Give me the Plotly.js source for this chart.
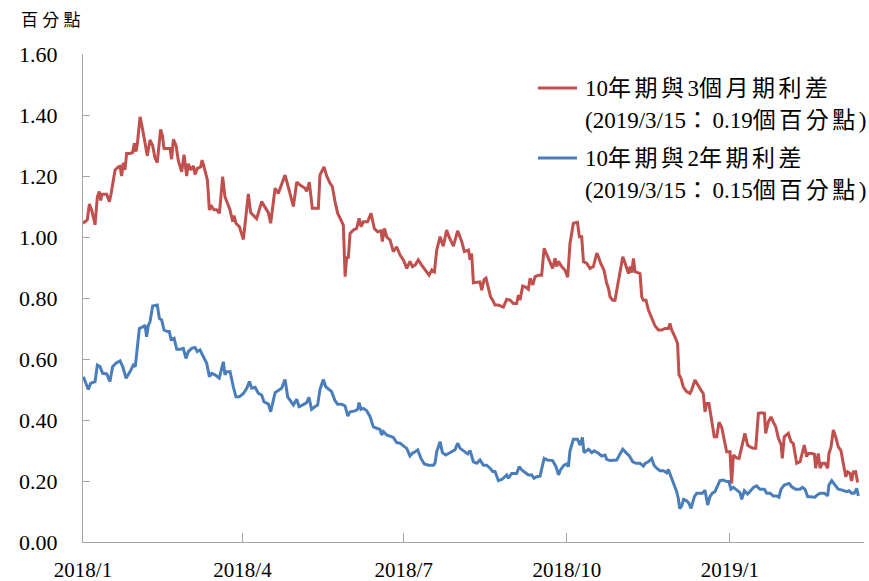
<!DOCTYPE html>
<html>
<head>
<meta charset="utf-8">
<script src="https://cdn.plot.ly/plotly-3.0.1.min.js"></script>
<style>html,body{margin:0;padding:0;background:#fff;}</style>
</head>
<body>
<div id="chart" style="width:869px;height:581px;"></div>
<script>
// ---- data (x = days since 2018-01-01, y = percentage points) ----
const startDate = '2018-01-01';
const endDay = 440.7;

const redName = '10年期與3個月期利差';
const redNote = '(2019/3/15：0.19個百分點)';
const blueName = '10年期與2年期利差';
const blueNote = '(2019/3/15：0.15個百分點)';
const yUnit = '百 分 點';

const tickDates = ['2018-01-01', '2018-04-01', '2018-07-01', '2018-10-01', '2019-01-01'];
const tickLabels = ['2018/1', '2018/4', '2018/7', '2018/10', '2019/1'];

const redDays = [
  0,2.4,3.6,4.9,6.2,6.8,8.1,9.2,10,10.7,
  13.4,14.9,15.8,18.1,20,20.9,21.8,22.8,23.7,24.6,
  26.5,28,29,29.9,30.7,32.2,33.7,35,36.3,37.8,
  39.3,40.6,41.9,43.8,44.9,45.7,47.2,49.1,50,51,
  52.5,53.8,55.7,57,58.5,59.4,60.8,62.3,63.2,64.5,
  66.4,67.2,68.3,70.2,71.3,72.6,73.9,75.4,77,78.8,
  80.1,81.4,82.9,84.5,85.2,86.3,88.2,90.5,92,93.3,
  94.6,96.1,98,100.8,102.7,104.6,105.9,108.4,110.2,114,
  116.8,118.7,120.6,122.5,125.3,126.2,127.7,129.4,132.8,133.7,
  136,137.5,139.4,140.7,142.2,143.7,146.9,147.9,148.8,149.7,
  150.7,152.6,154.4,155.8,156.9,158.2,160.6,162.5,164.4,166.3,
  168.2,168.9,170.1,171.4,173.3,175.1,177,178.9,180.8,182.7,
  184.5,185.9,187.4,189.2,191.1,193.9,195.3,196.8,198.3,199.6,
  201.5,203.3,205.2,206.5,209,211.4,213.7,215.2,217.5,218.4,
  219.3,220.3,224,225,226.3,227.4,228.7,230,231.2,232.5,
  234.4,237.2,239.1,241,242.9,244.7,245.7,246.6,248.1,250,
  251.3,252.3,253.8,255.1,257,258.8,260.2,261.7,263.5,265,
  266.4,267.3,268.3,270.1,272,273.5,274.8,276.7,279,280.1,
  281.4,282.4,284.2,286.1,288,289.9,290.8,292.1,294,295.5,
  296.5,297.4,298.9,300.2,301.2,302.7,304.6,305.9,306.8,307.8,
  308.7,309.6,310.6,311.5,314.3,315.3,316.2,317.7,319,320.9,
  322.8,324.7,326.6,328.4,330.3,331.2,332.2,334,335.5,336.3,
  337.4,338.7,340.6,342.5,343.4,345.3,346.8,348.7,350,351,
  351.9,353.2,354.7,356.2,357.6,358.9,360.4,361.9,363.2,365.1,
  366,367,368.8,370.2,371.7,373.5,375,376.4,378.3,379.6,
  381.1,383,384.5,385.2,386.7,388.2,389.5,390.9,392.4,393.9,
  394.6,395.7,398,399.5,400.8,402.7,404.6,405.9,407,408.3,
  409.3,411.2,412.7,413.4,414.9,415.9,417.2,418.7,420.2,420.9,
  422.1,423.4,424.7,426.2,427.7,429,430.4,431.5,432.8,433.7,
  434.7,436,436.6,437.1
];
const redValues = [
  1.045,1.056,1.108,1.088,1.056,1.04,1.132,1.149,1.12,1.14,
  1.14,1.116,1.14,1.22,1.23,1.232,1.20,1.244,1.22,1.274,
  1.274,1.277,1.307,1.28,1.307,1.394,1.351,1.307,1.266,1.318,
  1.30,1.26,1.244,1.353,1.33,1.29,1.29,1.29,1.255,1.32,
  1.30,1.25,1.214,1.27,1.20,1.24,1.22,1.233,1.205,1.225,
  1.23,1.252,1.23,1.187,1.089,1.10,1.089,1.089,1.078,1.198,
  1.132,1.11,1.09,1.05,1.07,1.045,1.034,0.992,1.067,1.141,
  1.08,1.07,1.06,1.116,1.10,1.08,1.045,1.16,1.143,1.203,
  1.143,1.10,1.18,1.17,1.16,1.15,1.18,1.094,1.094,1.203,
  1.23,1.20,1.176,1.165,1.116,1.078,1.039,0.87,0.935,0.93,
  1.012,1.023,1.028,1.061,1.034,1.05,1.05,1.078,1.028,1.017,
  1.02,0.985,1.028,1.0,0.99,0.952,0.968,0.941,0.925,0.897,
  0.92,0.903,0.908,0.925,0.908,0.886,0.875,0.892,0.886,0.957,
  1.001,0.97,1.023,1.001,0.97,1.02,0.985,0.952,0.957,0.925,
  0.946,0.85,0.853,0.826,0.86,0.865,0.83,0.804,0.793,0.777,
  0.777,0.770,0.796,0.793,0.782,0.782,0.81,0.793,0.839,0.835,
  0.829,0.865,0.843,0.87,0.875,0.875,0.963,0.941,0.914,0.897,
  0.93,0.903,0.92,0.903,0.891,0.868,0.979,1.045,1.048,1.001,
  1.001,0.919,0.914,0.897,0.903,0.947,0.936,0.914,0.891,0.848,
  0.832,0.804,0.793,0.793,0.826,0.87,0.935,0.914,0.897,0.88,
  0.903,0.883,0.93,0.886,0.88,0.804,0.793,0.793,0.761,0.733,
  0.708,0.695,0.695,0.70,0.70,0.717,0.695,0.673,0.651,0.548,
  0.537,0.509,0.493,0.487,0.498,0.531,0.515,0.498,0.487,0.427,
  0.454,0.454,0.40,0.345,0.345,0.393,0.376,0.335,0.296,0.296,
  0.192,0.285,0.276,0.274,0.312,0.356,0.318,0.312,0.307,0.307,
  0.422,0.424,0.422,0.356,0.394,0.41,0.394,0.378,0.34,0.32,
  0.274,0.345,0.356,0.329,0.323,0.258,0.263,0.29,0.318,0.28,
  0.29,0.29,0.288,0.242,0.29,0.242,0.258,0.258,0.242,0.29,
  0.312,0.367,0.345,0.312,0.30,0.258,0.214,0.23,0.225,0.20,
  0.23,0.231,0.209,0.195
];

const blueDays = [
  0.2,1.7,3,4.3,6.8,8.1,9.6,11.1,13.4,15.2,
  16.7,18.6,20.9,22.4,24.3,26.5,28.4,29.5,30.3,31.8,
  34,35,35.9,36.9,37.8,39.3,41.9,43.1,44.4,45.7,
  47.6,48.7,49.7,51.4,52.9,55.1,56.6,58.1,59.4,61.3,
  63.2,64.5,66,67.5,69.8,71.3,72.6,74.5,76.9,79.2,
  80.1,81.1,83,84.8,86.3,88.2,90.5,92.4,93.9,95.2,
  97.1,99,100.8,102.1,104.6,105.9,107.4,108.4,110.2,112.1,
  114,115.5,117.4,118.7,120.6,121.9,123.8,126.2,127.5,129,
  131,132.4,133.7,135.6,137,138.8,140.3,142.2,143.7,146,
  147.9,149.4,150.7,153.5,155,155.8,156.9,158.2,160.1,162,
  163.8,165.7,167.6,168.5,169.5,171.4,173.3,175.1,177,178.9,
  180.8,182.7,184.5,185.9,187.4,188.9,190.7,192.6,194.9,196.8,
  197.7,198.6,199.6,201.5,202.8,204.7,206.2,208,209.9,211.4,
  212.8,215.2,217.1,218.4,220.3,222.2,224,225.9,227.8,229.7,
  231.2,232.5,234.4,236.3,238.2,239.1,240,241.9,244.7,246.2,
  247.6,250,251.3,253.2,254.5,256,257.9,260.2,262,265,
  266.9,268.3,269.6,271.4,273,273.9,274.8,276.7,279,280.5,
  281.8,282.7,285.2,287.1,288.4,290.8,292.7,294.6,295.5,297.4,
  299.3,301.2,302.7,304.6,306.4,308.3,310.2,312.1,314.3,316.2,
  317.2,319,320.9,322.2,323.7,325.6,327.5,329.4,330.3,331.8,
  333.1,335,335.9,336.7,337.8,338.9,340.6,341.9,343.1,343.8,
  345,346.3,348.2,349.5,351,352.5,353.8,355.1,356.6,358.1,
  359.4,361.3,363.2,364.5,365.6,367,368.8,370.7,371.7,373.2,
  375,376.9,378.3,380.1,382,384.5,385.8,387.7,389.5,391.4,
  392.7,393.9,395.7,398.4,399.9,402.1,404.6,405.9,407.4,408.9,
  411.2,413,414.5,415.9,418.3,420.2,420.9,422.5,424.3,426.2,
  428.5,430.9,432.2,433.7,435.2,436.6,437.5
];
const blueValues = [
  0.542,0.52,0.50,0.52,0.526,0.58,0.575,0.553,0.551,0.526,
  0.575,0.586,0.594,0.575,0.537,0.558,0.58,0.575,0.619,0.70,
  0.706,0.711,0.673,0.711,0.722,0.774,0.777,0.733,0.728,0.695,
  0.69,0.69,0.664,0.668,0.632,0.632,0.635,0.602,0.624,0.635,
  0.638,0.624,0.63,0.613,0.586,0.542,0.553,0.548,0.537,0.591,
  0.548,0.558,0.558,0.509,0.476,0.476,0.487,0.504,0.526,0.504,
  0.507,0.487,0.482,0.46,0.452,0.427,0.46,0.49,0.497,0.504,
  0.533,0.476,0.46,0.449,0.468,0.444,0.449,0.457,0.474,0.435,
  0.444,0.449,0.50,0.533,0.509,0.50,0.493,0.463,0.452,0.452,
  0.446,0.413,0.427,0.43,0.435,0.457,0.435,0.438,0.43,0.411,
  0.378,0.373,0.369,0.351,0.362,0.351,0.348,0.343,0.326,0.324,
  0.315,0.307,0.282,0.291,0.296,0.302,0.274,0.256,0.252,0.252,
  0.252,0.258,0.296,0.329,0.293,0.285,0.289,0.296,0.302,0.324,
  0.307,0.296,0.289,0.30,0.263,0.258,0.269,0.252,0.252,0.242,
  0.231,0.231,0.201,0.205,0.214,0.22,0.209,0.225,0.225,0.247,
  0.236,0.227,0.22,0.22,0.209,0.214,0.216,0.274,0.269,0.267,
  0.247,0.22,0.238,0.252,0.256,0.247,0.299,0.337,0.337,0.318,
  0.343,0.293,0.304,0.293,0.299,0.291,0.282,0.285,0.271,0.267,
  0.269,0.269,0.285,0.304,0.293,0.282,0.263,0.258,0.258,0.249,
  0.258,0.263,0.274,0.252,0.242,0.234,0.234,0.227,0.238,0.214,
  0.192,0.165,0.143,0.11,0.118,0.14,0.135,0.127,0.11,0.127,
  0.149,0.16,0.16,0.16,0.17,0.121,0.149,0.16,0.165,0.184,
  0.201,0.203,0.198,0.198,0.173,0.179,0.17,0.162,0.14,0.168,
  0.157,0.17,0.179,0.184,0.173,0.173,0.16,0.16,0.151,0.151,
  0.147,0.173,0.187,0.192,0.181,0.173,0.173,0.179,0.173,0.149,
  0.147,0.147,0.155,0.16,0.16,0.151,0.187,0.201,0.187,0.173,
  0.17,0.165,0.168,0.16,0.16,0.176,0.151
];

// ---- helpers ----
function dayToDate(d) {
  const t = Date.parse(startDate + 'T00:00:00Z') + d * 86400000;
  return new Date(t).toISOString().slice(0, 19).replace('T', ' ');
}
// widen CJK runs a little, as in the reference typesetting
function spaceCJK(s) {
  return s.replace(/([\u3000-\u9fff\uff00-\uffef]+)/g,
    '<span style="letter-spacing:3.5px">$1</span>');
}

const W = 869, H = 581;
const M = {l: 83, r: 5, t: 54, b: 39};
const pw = W - M.l - M.r, ph = H - M.t - M.b;
const px2x = x => (x - M.l) / pw;
const px2y = y => (H - M.b - y) / ph;

const RED = '#C0504D', BLUE = '#4A7EBB';
const serif = '"Liberation Serif", "Times New Roman", "Noto Sans CJK TC", serif';
const axisGray = '#A6A6A6';

const traces = [
  {x: redDays.map(dayToDate), y: redValues, type: 'scatter', mode: 'lines',
   name: redName, line: {color: RED, width: 3}},
  {x: blueDays.map(dayToDate), y: blueValues, type: 'scatter', mode: 'lines',
   name: blueName, line: {color: BLUE, width: 3}}
];

const legFont = {family: serif, size: 23, color: '#000'};
const legX = px2x(583);

const layout = {
  width: W, height: H,
  margin: {l: M.l, r: M.r, t: M.t, b: M.b, pad: 0},
  paper_bgcolor: '#fff', plot_bgcolor: '#fff',
  showlegend: false,
  xaxis: {
    type: 'date', range: [dayToDate(0), dayToDate(endDay)],
    tickmode: 'array', tickvals: tickDates, ticktext: tickLabels,
    ticks: 'inside', ticklen: 9, tickwidth: 1, tickcolor: axisGray,
    showline: true, linecolor: axisGray, linewidth: 1,
    showgrid: false, zeroline: false,
    tickfont: {family: serif, size: 21, color: '#000'},
    ticklabelstandoff: 9
  },
  yaxis: {
    range: [0, 1.6], tick0: 0, dtick: 0.2, tickformat: '.2f',
    ticks: 'inside', ticklen: 7, tickwidth: 1, tickcolor: axisGray,
    showline: true, linecolor: axisGray, linewidth: 1,
    showgrid: false, zeroline: false,
    tickfont: {family: serif, size: 22, color: '#000'},
    ticklabelstandoff: 20
  },
  shapes: [
    {type: 'line', xref: 'paper', yref: 'paper', x0: px2x(538), x1: px2x(577), y0: px2y(88), y1: px2y(88),
     line: {color: RED, width: 3}},
    {type: 'line', xref: 'paper', yref: 'paper', x0: px2x(538), x1: px2x(577), y0: px2y(158), y1: px2y(158),
     line: {color: BLUE, width: 3}}
  ],
  annotations: [
    {xref: 'paper', yref: 'paper', x: px2x(51), y: px2y(21), text: yUnit, showarrow: false,
     xanchor: 'center', yanchor: 'middle', font: {family: serif, size: 17, color: '#000'}},
    {xref: 'paper', yref: 'paper', x: legX, y: px2y(88), text: spaceCJK(redName), showarrow: false,
     xanchor: 'left', yanchor: 'middle', font: legFont},
    {xref: 'paper', yref: 'paper', x: legX, y: px2y(121), text: spaceCJK(redNote), showarrow: false,
     xanchor: 'left', yanchor: 'middle', font: legFont},
    {xref: 'paper', yref: 'paper', x: legX, y: px2y(158), text: spaceCJK(blueName), showarrow: false,
     xanchor: 'left', yanchor: 'middle', font: legFont},
    {xref: 'paper', yref: 'paper', x: legX, y: px2y(191), text: spaceCJK(blueNote), showarrow: false,
     xanchor: 'left', yanchor: 'middle', font: legFont}
  ]
};

Plotly.newPlot('chart', traces, layout, {displayModeBar: false, staticPlot: true});
</script>
</body>
</html>
